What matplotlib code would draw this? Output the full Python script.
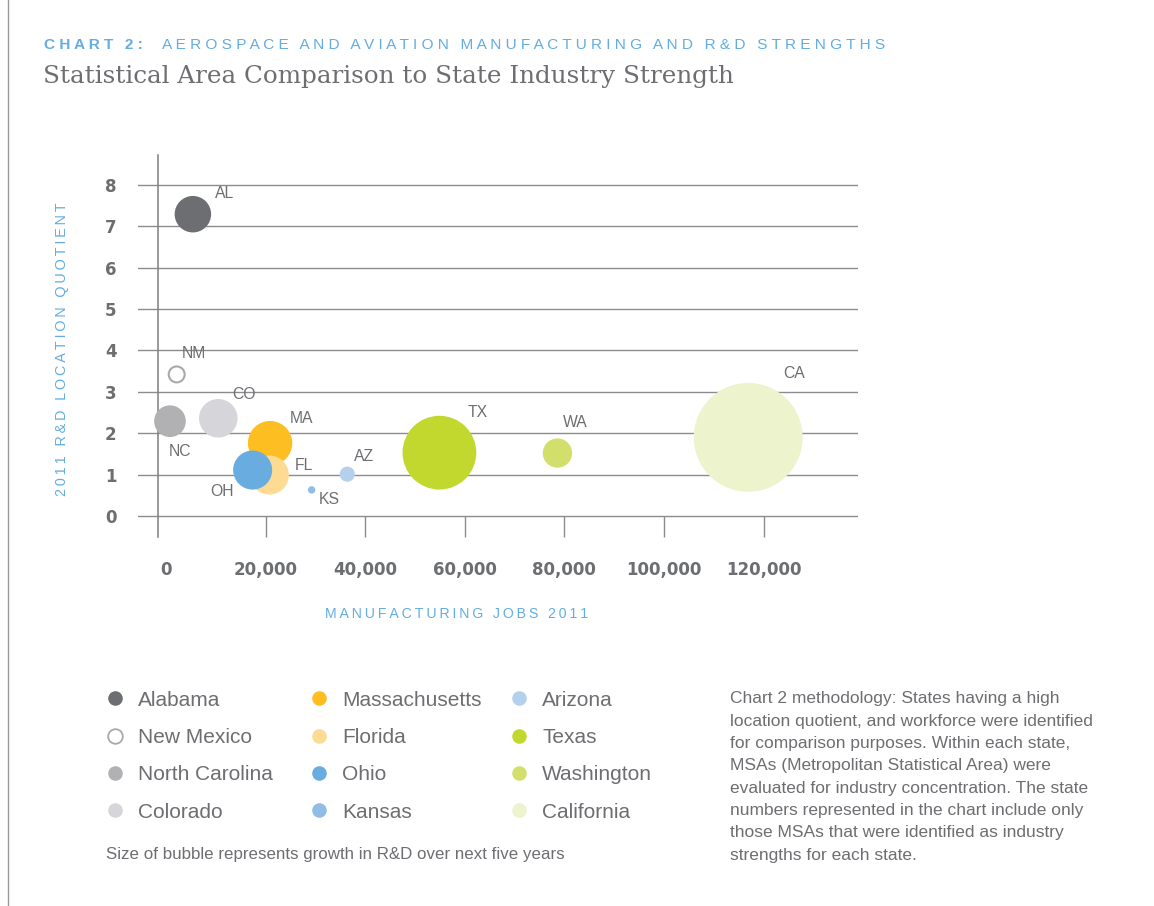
import matplotlib
matplotlib.use("Agg")
import matplotlib.pyplot as plt
from matplotlib.lines import Line2D

# data
states = ["Alabama", "New Mexico", "North Carolina", "Colorado",
          "Massachusetts", "Florida", "Ohio", "Kansas",
          "Arizona", "Texas", "Washington", "California"]
abbrev = ["AL", "NM", "NC", "CO", "MA", "FL", "OH", "KS", "AZ", "TX", "WA", "CA"]
jobs = [5400, 2150, 800, 10500, 20900, 20750, 17400, 29250, 36400, 54900, 78600, 116900]
lq = [7.29, 3.42, 2.29, 2.36, 1.76, 0.99, 1.11, 0.63, 1.01, 1.53, 1.52, 1.90]
growth = [11.0, 2.1, 8.3, 12.3, 16.3, 12.6, 12.6, 0.45, 1.9, 45.0, 7.1, 98.0]

x_ticks = [0, 20000, 40000, 60000, 80000, 100000, 120000]
y_ticks = [0, 1, 2, 3, 4, 5, 6, 7, 8]

colors = ["#6d6e71", "#ffffff", "#b1b1b4", "#d6d5d9",
          "#fdbe22", "#fedb93", "#69acdf", "#8fbde7",
          "#b5d0ec", "#c3d82f", "#d2df6a", "#ecf3cd"]
edges = ["none", "#a7a9ac"] + ["none"] * 10

# label offsets from bubble centre, in pixels
label_off = {"AL": (22, 16), "NM": (5, 16), "NC": (-1, -35), "CO": (14, 19),
             "MA": (20, 20), "FL": (25, 5), "OH": (-42, -26), "KS": (7, -14),
             "AZ": (7, 13), "TX": (28, 36), "WA": (5, 26), "CA": (35, 59)}

GRAY = "#6d6e71"
BLUE = "#62ade2"
SANS = ["Liberation Sans", "DejaVu Sans"]
W, H = 1154, 906


def spaced(s, gap="\u2009", wordgap="\u2009 \u2009"):
    # wide letter spacing like the original print layout
    return wordgap.join(gap.join(w) for w in s.split(" "))


fig = plt.figure(figsize=(W / 100, H / 100), dpi=100)
fig.patch.set_facecolor("white")

ax = fig.add_axes([138 / W, 1 - 537 / H, 720 / W, 382 / H])
ax.set_xlim(-5620, 138950)
ax.set_ylim(-0.507, 8.72)

for sp in ["top", "right", "bottom"]:
    ax.spines[sp].set_visible(False)
ax.spines["left"].set_position(("data", -1550))
ax.spines["left"].set_color("#7d7e81")
ax.spines["left"].set_linewidth(1.1)
ax.spines["left"].set_zorder(1)

ax.set_yticks(y_ticks)
ax.yaxis.grid(True, color="#8c8c8f", lw=1.0)
ax.set_axisbelow(True)
ax.tick_params(axis="y", length=0, pad=30, labelsize=12, labelcolor=GRAY)

ax.set_xticks(x_ticks, labels=[f"{v:,}" for v in x_ticks])
ax.tick_params(axis="x", direction="in", length=15, width=1.0, color="#8c8c8f",
               pad=17, labelsize=12, labelcolor=GRAY)
ax.xaxis.get_major_ticks()[0].tick1line.set_visible(False)
for t in ax.get_xticklabels() + ax.get_yticklabels():
    t.set_fontweight("bold")

sizes = [g * 62.7 for g in growth]
lws = [1.5 if e != "none" else 0 for e in edges]
ax.scatter(jobs, lq, s=sizes, c=colors, edgecolors=edges, linewidths=lws, zorder=3)

for ab, x, y in zip(abbrev, jobs, lq):
    ax.annotate(ab, (x, y), xytext=label_off[ab], textcoords="offset pixels",
                ha="left", va="baseline", fontsize=11.3, color=GRAY, family=SANS,
                zorder=4)

# titles
fig.text(44 / W, 1 - 45 / H, spaced("CHART 2:", " ", " \u2009 "), fontsize=11.05,
         fontweight="bold", color=BLUE, family=SANS, va="center")
fig.text(161.7 / W, 1 - 45 / H,
         spaced("AEROSPACE AND AVIATION MANUFACTURING AND R&D STRENGTHS", " ", " \u2009 "),
         fontsize=11.05, color=BLUE, family=SANS, va="center")
fig.text(43 / W, 1 - 83.3 / H, "Statistical Area Comparison to State Industry Strength",
         fontsize=17.7, color=GRAY, family="DejaVu Serif", va="baseline")

# axis titles
fig.text(457 / W, 1 - 614 / H, spaced("MANUFACTURING JOBS 2011"), fontsize=10.2,
         color=BLUE, family=SANS, ha="center", va="center")
fig.text(61.7 / W, 1 - 349 / H, spaced("2011 R&D LOCATION QUOTIENT"), fontsize=10.35,
         color=BLUE, family=SANS, ha="center", va="center", rotation=90)

# legend, three columns of four
col_x = [104.3, 308.6, 509]
for i, cx in enumerate(col_x):
    handles = []
    for j in range(i * 4, i * 4 + 4):
        hollow = edges[j] != "none"
        handles.append(Line2D([], [], marker="o", linestyle="none", markersize=10.5,
                              markerfacecolor=colors[j],
                              markeredgecolor=edges[j] if hollow else colors[j],
                              markeredgewidth=1.3 if hollow else 0,
                              label=states[j]))
    leg = fig.legend(handles=handles, loc="upper left",
                     bbox_to_anchor=(cx / W, 1 - 690.7 / H),
                     frameon=False, borderpad=0, borderaxespad=0,
                     handlelength=1.0, handletextpad=0.6, labelspacing=0.88,
                     prop={"family": SANS, "size": 15})
    for t in leg.get_texts():
        t.set_color(GRAY)

fig.text(106 / W, 1 - 855 / H,
         "Size of bubble represents growth in R&D over next five years",
         fontsize=12.2, color=GRAY, family=SANS, va="center")

method = ("Chart 2 methodology: States having a high\n"
          "location quotient, and workforce were identified\n"
          "for comparison purposes. Within each state,\n"
          "MSAs (Metropolitan Statistical Area) were\n"
          "evaluated for industry concentration. The state\n"
          "numbers represented in the chart include only\n"
          "those MSAs that were identified as industry\n"
          "strengths for each state.")
fig.text(730 / W, 1 - 691.5 / H, method, fontsize=12.5, color=GRAY, family=SANS,
         va="top", linespacing=1.61)

# page edge line
fig.add_artist(Line2D([7.5 / W, 7.5 / W], [0, 1], color="#9a9a9a", lw=1.0,
                      transform=fig.transFigure))

fig.savefig("out.png", dpi=100)
